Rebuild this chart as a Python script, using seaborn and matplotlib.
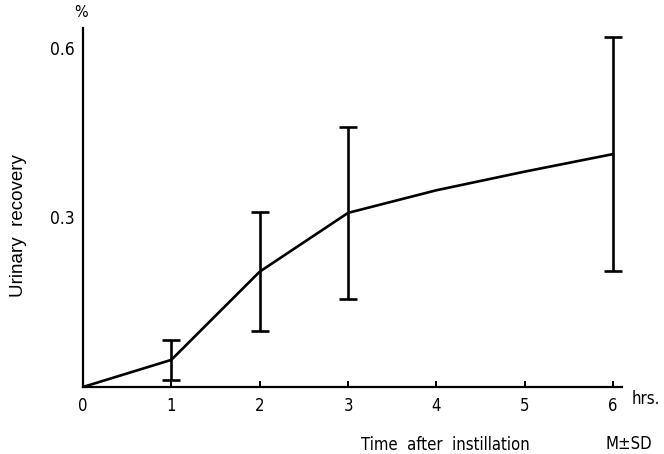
import pandas as pd
import matplotlib
matplotlib.use("Agg")
import matplotlib.pyplot as plt
import seaborn as sns

# Mean urinary recovery (%) along the curve
hours = [0, 1, 2, 3, 4, 5, 6]
recovery = [0.0, 0.048, 0.204, 0.308, 0.348, 0.381, 0.412]

# Error bars (M +/- SD) at the sampled hours
sd_hours = [1, 2, 3, 6]
sd_mean = [0.048, 0.204, 0.308, 0.412]
sd_value = [0.035, 0.105, 0.152, 0.207]

df = pd.DataFrame({"Hours": hours, "Recovery": recovery})

sns.set_style("ticks")
plt.rcParams["font.family"] = ["DejaVu Sans"]
plt.rcParams["font.stretch"] = "condensed"
plt.rcParams["text.color"] = "black"

fig = plt.figure(figsize=(6.64, 4.54), dpi=100)
ax = fig.add_axes([0.125, 0.1476, 0.8117, 0.7907])

sns.lineplot(data=df, x="Hours", y="Recovery", ax=ax, color="black", linewidth=1.9)
ax.errorbar(sd_hours, sd_mean, yerr=sd_value, fmt="none", ecolor="black",
            elinewidth=1.9, capsize=6.8, capthick=1.9)

ax.set_xlim(0, 6.1)
ax.set_ylim(0, 0.635)
ax.set_xticks(hours)
ax.set_xticklabels([str(h) for h in hours])
ax.set_yticks([0.3, 0.6])
ax.set_yticklabels(["0.3", "0.6"])

sns.despine(ax=ax)
for side in ["left", "bottom"]:
    ax.spines[side].set_linewidth(1.6)
    ax.spines[side].set_color("black")

ax.tick_params(axis="x", direction="in", length=4, width=1.4, pad=7,
               labelsize=12, colors="black")
ax.tick_params(axis="y", length=0, pad=6, labelsize=12.5, colors="black")

ax.set_ylabel("Urinary  recovery", fontsize=13.5, fontstretch="normal",
              family="Liberation Sans", color="black")
ax.yaxis.set_label_coords(-0.103, 0.451)
ax.set_xlabel("Time  after  instillation", fontsize=12, color="black")
ax.xaxis.set_label_coords(0.673, -0.137)

ax.text(-0.004, 1.042, "%", transform=ax.transAxes, ha="center", va="center", fontsize=11.5)
ax.text(1.0186, -0.033, "hrs.", transform=ax.transAxes, ha="left", va="center", fontsize=12)
ax.text(1.013, -0.159, "M\u00b1SD", transform=ax.transAxes, ha="center", va="center", fontsize=12)

fig.savefig("out.png", dpi=100)
